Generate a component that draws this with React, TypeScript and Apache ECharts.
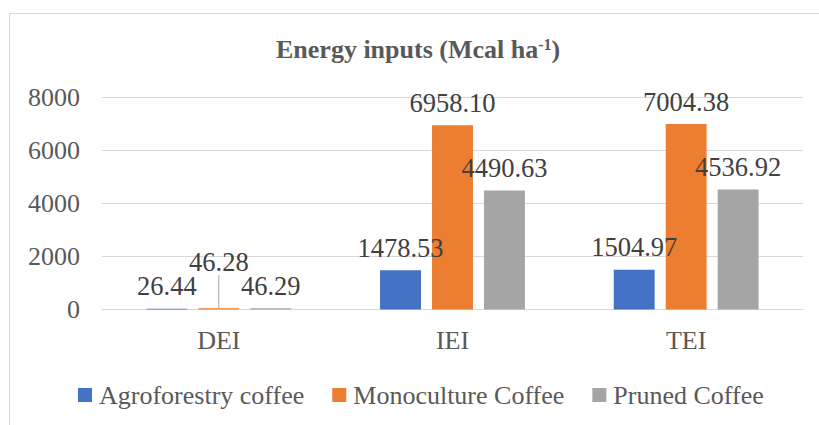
import React, { useEffect, useRef } from "react";
import * as echarts from "echarts";

const categories = ["DEI", "IEI", "TEI"];
const seriesNames = ["Agroforestry coffee", "Monoculture Coffee", "Pruned Coffee"];
const agroforestry = [26.44, 1478.53, 1504.97];
const monoculture = [46.28, 6958.1, 7004.38];
const pruned = [46.29, 4490.63, 4536.92];
const colors = ["#4472C4", "#ED7D31", "#A5A5A5"];
const yTicks = { min: 0, max: 8000, interval: 2000 };

const FONT = "'Liberation Serif', 'Times New Roman', serif";

export default function App() {
  const ref = useRef<HTMLDivElement>(null);
  useEffect(() => {
    if (!ref.current) return;
    const chart = echarts.init(ref.current, undefined, { renderer: "svg" });
    const valueLabel = {
      show: true,
      position: "top",
      distance: 9,
      fontFamily: FONT,
      fontSize: 26.5,
      color: "#404040",
      formatter: (p: any) => Number(p.value).toFixed(2),
    };
    const mk = (name: string, data: number[], color: string, idx: number) => ({
      name,
      type: "bar",
      data: data.map((v, i) =>
        idx === 1 && i === 0 ? { value: v, labelLine: { show: true } } : v
      ),
      itemStyle: { color },
      barGap: "27%",
      barCategoryGap: "38%",
      label: valueLabel,
      labelLine: {
        show: false,
        lineStyle: { color: "#A6A6A6", width: 1 },
      },
      labelLayout:
        idx === 1
          ? (p: any) => (p.dataIndex === 0 ? { dy: -24 } : {})
          : undefined,
    });
    chart.setOption({
      animation: false,
      backgroundColor: "#ffffff",
      title: {
        text: "{a|Energy inputs (Mcal ha}{s|-1}{a|)}",
        left: 276,
        top: 36,
        padding: 0,
        textStyle: {
          rich: {
            a: { fontFamily: FONT, fontSize: 26, fontWeight: "bold", color: "#595959", lineHeight: 26 },
            s: {
              fontFamily: FONT,
              fontSize: 16,
              fontWeight: "bold",
              color: "#595959",
              lineHeight: 26,
              verticalAlign: "top",
              padding: [0, 0, 11, 0],
            },
          },
        },
      },
      legend: {
        data: seriesNames,
        left: 78,
        top: 382,
        padding: 0,
        itemWidth: 14,
        itemHeight: 14,
        itemGap: 28,
        icon: "rect",
        textStyle: { fontFamily: FONT, fontSize: 26, color: "#595959", padding: [0, 0, 0, 2] },
      },
      grid: { left: 102, right: 16, top: 97.7, bottom: 115.5 },
      xAxis: {
        type: "category",
        data: categories,
        axisLine: { lineStyle: { color: "#D9D9D9", width: 1 } },
        axisTick: { show: false },
        axisLabel: { fontFamily: FONT, fontSize: 26, color: "#595959", margin: 18 },
      },
      yAxis: {
        type: "value",
        min: yTicks.min,
        max: yTicks.max,
        interval: yTicks.interval,
        axisLine: { show: false },
        axisTick: { show: false },
        splitLine: { lineStyle: { color: "#D9D9D9", width: 1 } },
        axisLabel: {
          fontFamily: FONT,
          fontSize: 26,
          color: "#595959",
          margin: 22,
          formatter: (v: number) => String(v),
        },
      },
      graphic: [
        {
          type: "rect",
          shape: { x: 9.5, y: 13.5, width: 830, height: 430 },
          style: { fill: "none", stroke: "#D9D9D9", lineWidth: 1 },
          silent: true,
        },
      ],
      series: [
        mk(seriesNames[0], agroforestry, colors[0], 0),
        mk(seriesNames[1], monoculture, colors[1], 1),
        mk(seriesNames[2], pruned, colors[2], 2),
      ],
    });
    return () => chart.dispose();
  }, []);
  return (
    <div
      ref={ref}
      style={{ position: "fixed", left: 0, top: 0, width: 819, height: 425 }}
    />
  );
}
